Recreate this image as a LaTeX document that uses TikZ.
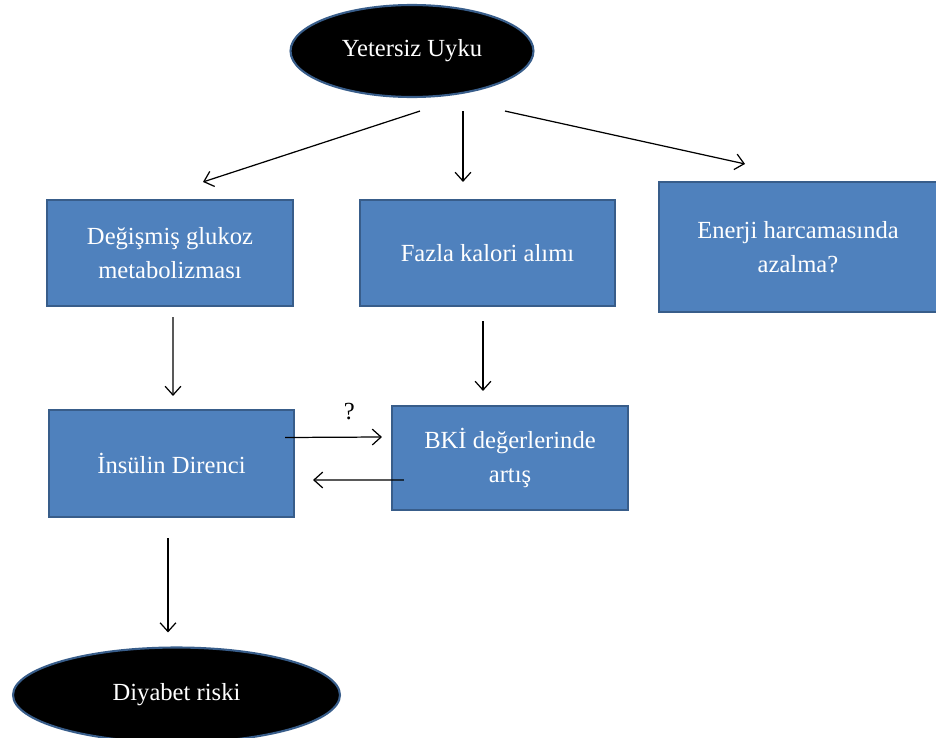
\documentclass[tikz,border=0pt]{standalone}
\usepackage{fontspec}
\setmainfont{Liberation Serif}
\usepackage{tikz}
\usetikzlibrary{arrows.meta,shapes.geometric}
\definecolor{boxfill}{HTML}{4F81BD}
\definecolor{boxline}{HTML}{385D8A}

\begin{document}
\begin{tikzpicture}[
    x=0.02cm, y=-0.02cm,
    >={Straight Barb[length=5pt,width=9pt]},
    font=\fontsize{14}{19}\selectfont,
    cause/.style={
		rectangle,
		draw=boxline,
		line width=1.2pt,
		fill=boxfill,
		text=white,
		text centered,
		align=center,
		inner sep=0pt
	},
	oval/.style={
		ellipse,
		draw=boxline,
		line width=1.2pt,
		fill=black,
		text=white,
		inner sep=0pt
	},
	link/.style={
		->,
		line width=0.7pt
	}
  ]
  \useasboundingbox (0,0) rectangle (936,737);

    % We start by placing the blocks
  \node [oval, minimum width=4.86cm, minimum height=1.84cm] (uyku) at (412,51) {Yetersiz Uyku};

  \node [cause, minimum width=4.92cm, minimum height=2.12cm] (glukoz) at (170,253)
 {Değişmiş glukoz\\metabolizması};

  \node [cause, minimum width=5.1cm, minimum height=2.12cm] (kalori) at (487.5,253)
 {Fazla kalori alımı};

  \node [cause, minimum width=5.56cm, minimum height=2.6cm] (enerji) at (798,247)
 {Enerji harcamasında\\azalma?};

  \node [cause, minimum width=4.9cm, minimum height=2.14cm] (insulin) at (171.5,463.5)
 {İnsülin Direnci};

  \node [cause, minimum width=4.72cm, minimum height=2.08cm] (bki) at (510,458)
 {BKİ değerlerinde\\artış};

  \node [oval, minimum width=6.54cm, minimum height=1.9cm] (diyabet) at (176.5,695) {Diyabet riski};

 \draw [link] ([shift={(8,13)}]uyku.south) -- ([shift={(33,-17)}]glukoz.north);
 \draw [link] ([shift={(51,13)}]uyku.south) -- ([shift={(-24.5,-17)}]kalori.north);
 \draw [link] ([shift={(93,13)}]uyku.south) -- ([shift={(-53,-17)}]enerji.north);
 \draw [link] ([shift={(3,10)}]glukoz.south) -- ([shift={(1.5,-13)}]insulin.north);
 \draw [link] ([shift={(-4.5,14)}]kalori.south) -- ([shift={(-27,-14)}]bki.north);
 \draw [link] ([shift={(-10,-26)}]insulin.east) -- node [above=6pt, xshift=9pt, text=black] {?} ([shift={(-9,-21)}]bki.west);
 \draw [link] ([shift={(13,22)}]bki.west) -- ([shift={(18,16.5)}]insulin.east);
 \draw [link] ([shift={(-3.5,20)}]insulin.south) -- ([shift={(-8.5,-14)}]diyabet.north);

\end{tikzpicture}
\end{document}
